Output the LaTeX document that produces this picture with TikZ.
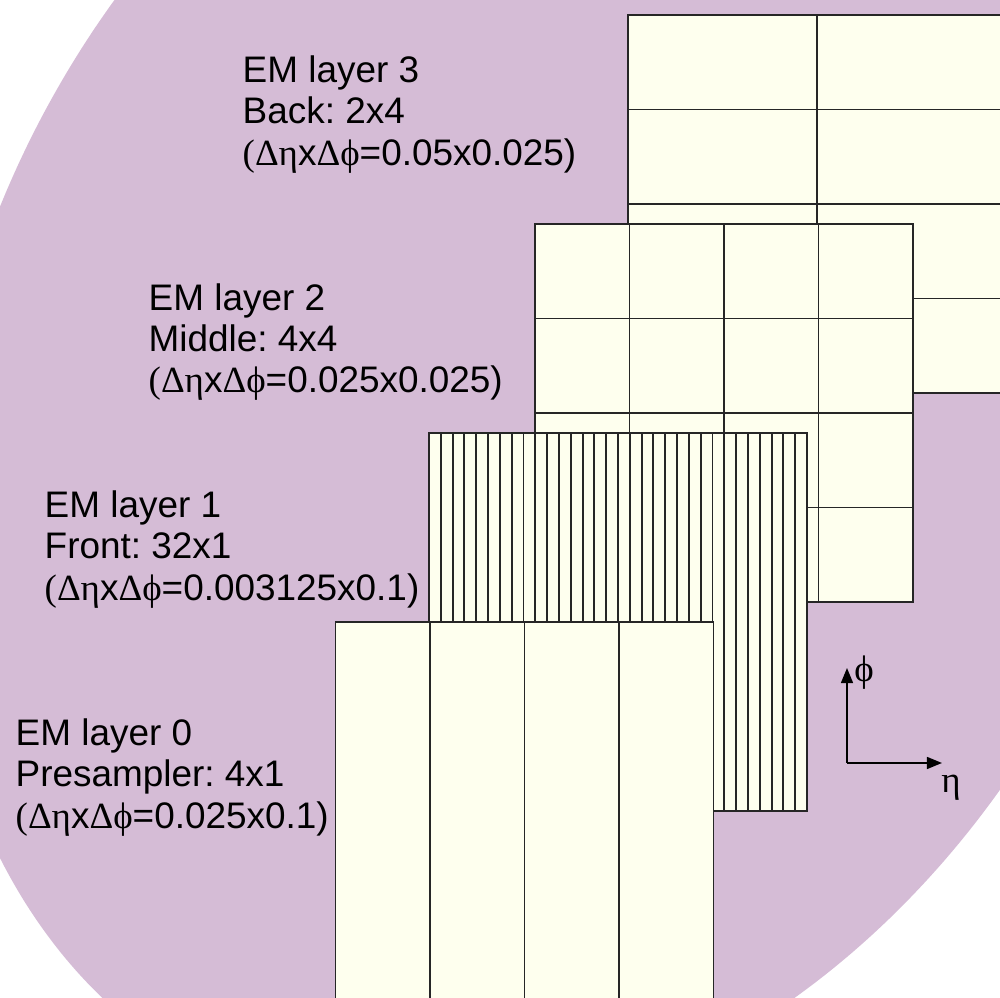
\documentclass[tikz,border=0pt]{standalone}
\usepackage{fontspec}
\setmainfont{Liberation Sans}
\newfontfamily\gr{Liberation Serif}
\usetikzlibrary{arrows.meta}
\definecolor{bgpurple}{RGB}{213,188,214}
\definecolor{cellcream}{RGB}{254,255,238}
\frenchspacing
\begin{document}
\begin{tikzpicture}[x=0.01cm,y=0.01cm,
  grid/.style={draw=black!85,line width=0.55pt},
  layer/.style={fill=cellcream,draw=black!85,line width=0.55pt},
  lbl/.style={anchor=north west,inner sep=0pt,align=left,font=\fontsize{10.5}{11.67}\selectfont},
  axislbl/.style={inner sep=0pt,font=\gr\fontsize{10.5}{11.67}\selectfont},
  axis/.style={line width=0.5pt,-{Triangle[length=4.3pt,width=3.4pt]}}]
\useasboundingbox (0,0) rectangle (1000,998);
\clip (0,0) rectangle (1000,998);
% background: tilted ellipse, centre (555,605), semi-axes 760 and 585, major axis at 63.4 deg
\fill[bgpurple] plot[domain=0:360, samples=180, smooth]
  ({555 + 760*cos(\x)*0.4478 - 585*sin(\x)*0.8942},
   {600 + 760*cos(\x)*0.8942 + 585*sin(\x)*0.4478}) -- cycle;
% layer 3 (back)
\filldraw[layer] (628,983) rectangle (1006,605);
\draw[grid] (817,983) -- (817,605);
\foreach \r in {1,2,3} \draw[grid] (628,{983-94.5*\r}) -- (1006,{983-94.5*\r});
% layer 2 (middle)
\filldraw[layer] (535,774) rectangle (913,396);
\foreach \i in {1,2,3} {
  \draw[grid] ({535+94.5*\i},774) -- ({535+94.5*\i},396);
  \draw[grid] (535,{774-94.5*\i}) -- (913,{774-94.5*\i});
}
% layer 1 (front strips)
\filldraw[layer] (429,565) rectangle (807,187);
\foreach \i in {1,...,31} \draw[grid] ({429+11.8125*\i},565) -- ({429+11.8125*\i},187);
% layer 0 (presampler)
\filldraw[layer] (335.5,376) rectangle (713.5,-5);
\foreach \i in {1,2,3} \draw[grid] ({335.5+94.5*\i},376) -- ({335.5+94.5*\i},-5);
% labels
\node[lbl] (l3) at (242,942.5) {EM layer 3\\Back: 2x4\\{\gr(Δη}x{\gr Δϕ}=0.05x0.025)};
\node[lbl] (l2) at (148,715) {EM layer 2\\Middle: 4x4\\{\gr(Δη}x{\gr Δϕ}=0.025x0.025)};
\node[lbl] (l1) at (44,507.5) {EM layer 1\\Front: 32x1\\{\gr(Δη}x{\gr Δϕ}=0.003125x0.1)};
\node[lbl] (l0) at (15,279.5) {EM layer 0\\Presampler: 4x1\\{\gr(Δη}x{\gr Δϕ}=0.025x0.1)};
% axes
\coordinate (o) at (847,235);
\coordinate (ptip) at (847,330);
\coordinate (etip) at (942,235);
\draw[axis] (o) -- (ptip);
\draw[axis] (o) -- (etip);
\node[axislbl] (phi) at (864,325) {ϕ};
\node[axislbl,anchor=base] (eta) at (951,205) {η};
\end{tikzpicture}
\end{document}
